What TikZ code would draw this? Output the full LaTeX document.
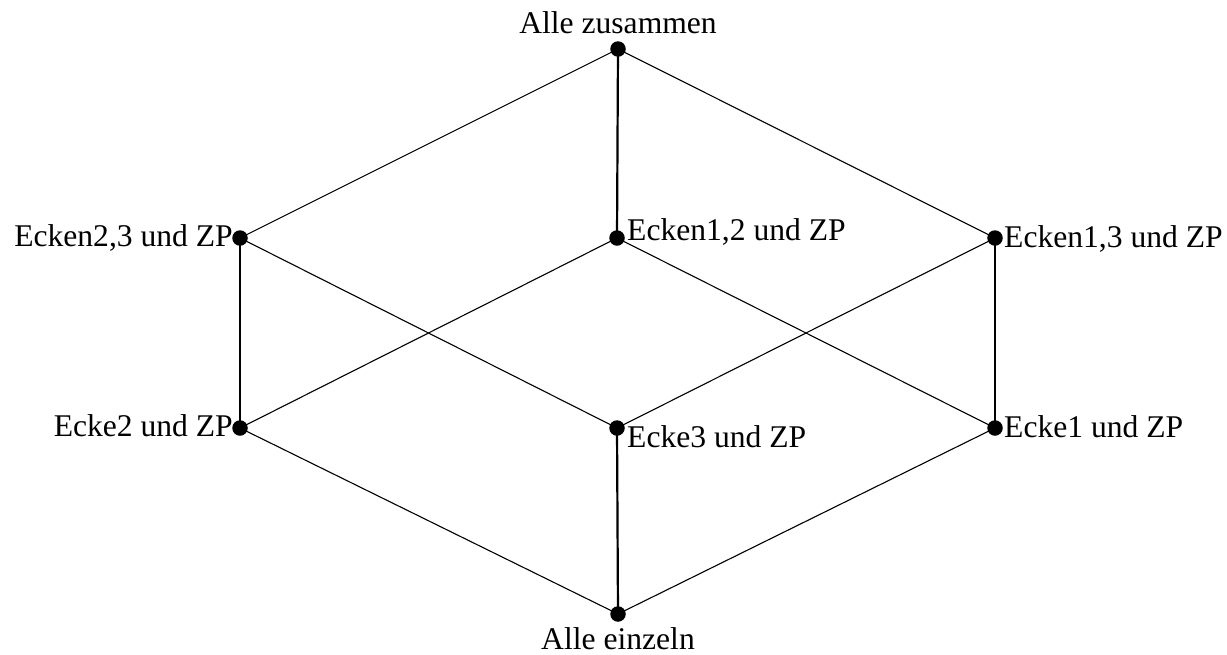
\documentclass[tikz,border=0pt]{standalone}
\usepackage{fontspec}
\setmainfont{Liberation Serif}
\begin{document}
\begin{tikzpicture}[x=1pt,y=-1pt,
  dot/.style={circle,fill=black,inner sep=0pt,minimum size=15.5pt},
  lbl/.style={inner sep=0pt,font=\fontsize{31.6}{36}\selectfont},
  diag/.style={line width=1.1pt},
  vert/.style={line width=2.2pt}]
\useasboundingbox (0,0) rectangle (1227,654);
\node[dot] (top) at (618,49) {};
\node[dot] (e23) at (240,238) {};
\node[dot] (e12) at (617,238) {};
\node[dot] (e13) at (995,238) {};
\node[dot] (e2) at (240,428) {};
\node[dot] (e3) at (617,428) {};
\node[dot] (e1) at (995,428) {};
\node[dot] (bot) at (618,614) {};
\draw[vert] (top.center) -- (e12.center);
\draw[diag] (top.center) -- (e23.center);
\draw[diag] (top.center) -- (e13.center);
\draw[vert] (e23.center) -- (e2.center);
\draw[diag] (e23.center) -- (e3.center);
\draw[diag] (e12.center) -- (e2.center);
\draw[diag] (e12.center) -- (e1.center);
\draw[diag] (e13.center) -- (e3.center);
\draw[vert] (e13.center) -- (e1.center);
\draw[diag] (e2.center) -- (bot.center);
\draw[vert] (e3.center) -- (bot.center);
\draw[diag] (e1.center) -- (bot.center);
\node[lbl,anchor=base] (ltop) at (618,33) {Alle zusammen};
\node[lbl,anchor=base] (lbot) at (618,649) {Alle einzeln};
\node[lbl,anchor=base east] (l23) at (233,246) {Ecken2,3 und ZP};
\node[lbl,anchor=base west] (l12) at (627,240) {Ecken1,2 und ZP};
\node[lbl,anchor=base west] (l13) at (1004,247) {Ecken1,3 und ZP};
\node[lbl,anchor=base east] (l2) at (233,436) {Ecke2 und ZP};
\node[lbl,anchor=base west] (l3) at (627,447) {Ecke3 und ZP};
\node[lbl,anchor=base west] (l1) at (1004,437) {Ecke1 und ZP};
\end{tikzpicture}
\end{document}
